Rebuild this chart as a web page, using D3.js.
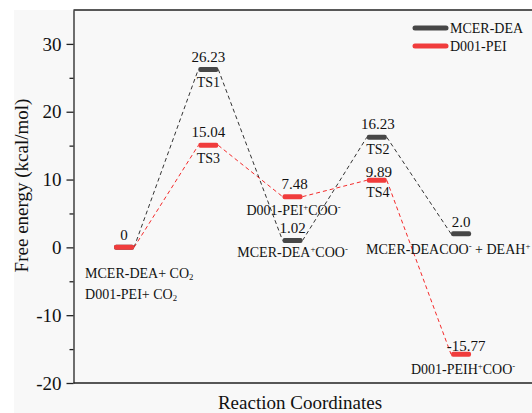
<!DOCTYPE html>
<html>
<head>
<meta charset="utf-8">
<script src="https://cdn.jsdelivr.net/npm/d3@7"></script>
<style>
  body { margin: 0; background: #fff; }
  svg { display: block; font-family: "Liberation Serif", "Times New Roman", serif; }
</style>
</head>
<body>
<svg id="chart" width="532" height="413"></svg>
<script>
// reaction steps along x
const steps = [1, 2, 3, 4, 5];

// free energies (kcal/mol)
const deaEnergy = [0, 26.23, 1.02, 16.23, 2.0];
const peiEnergy = [0, 15.04, 7.48, 9.89, -15.77];

// value labels ('' = not shown)
const deaValueText = ['', '26.23', '1.02', '16.23', '2.0'];
const peiValueText = ['0', '15.04', '7.48', '9.89', '-15.77'];

// state names (^x = superscript, _x = subscript)
const deaNames = ['MCER-DEA+ CO_2', 'TS1', 'MCER-DEA^+COO^-', 'TS2', 'MCER-DEACOO^- + DEAH^+'];
const peiNames = ['D001-PEI+ CO_2', 'TS3', 'D001-PEI^+COO^-', 'TS4', 'D001-PEIH^+COO^-'];

const seriesNames = ['MCER-DEA', 'D001-PEI'];
const yTicks = [-20, -10, 0, 10, 20, 30];
const yMinorTicks = [-15, -5, 5, 15, 25];

const svg = d3.select('#chart');
const W = 532, H = 413;

// plot-area background
svg.append('rect').attr('x', 14).attr('y', 10).attr('width', W - 14).attr('height', H - 10).attr('fill', '#f8f8f8');

const x = d3.scaleLinear().domain([0.4, 6]).range([73.5, 73.5 + 5.6 * 84.25]);
const y = d3.scaleLinear().domain([-20, 35]).range([383, 10]);

const series = [
    { energy: deaEnergy, values: deaValueText, names: deaNames, bar: '#474747', dash: '#333', legendY: 28 },
    { energy: peiEnergy, values: peiValueText, names: peiNames, bar: '#f03c3c', dash: '#f52a2a', legendY: 46 }
];

// label placement tweaks: [dx, dy] for value text and name text (relative to bar centre)
const valueOffset = [
    [[0, -7], [0, -7], [0, -7], [1, -8], [0, -7]],
    [[0, -7], [0, -8], [2, -8], [2, -3], [5, -3]]
];
const nameOffset = [
    [[-39, 31], [0, 18], [0, 17], [1, 17], [-95, 20]],
    [[-39, 52], [0, 18], [1, 18], [1, 17], [2, 20]]
];
const nameAnchor = [
    ['start', 'middle', 'middle', 'middle', 'start'],
    ['start', 'middle', 'middle', 'middle', 'middle']
];

const halfBar = 10;

// write text with simple ^ / _ markup as tspans
function richText(sel, str) {
    let i = 0;
    let buf = '';
    const flush = () => { if (buf) { sel.append('tspan').text(buf); buf = ''; } };
    while (i < str.length) {
        const c = str[i];
        if ((c === '^' || c === '_') && i + 1 < str.length) {
            flush();
            sel.append('tspan')
                .attr('font-size', '0.62em')
                .attr('baseline-shift', c === '^' ? '55%' : '-25%')
                .text(str[i + 1]);
            i += 2;
        } else {
            buf += c;
            i++;
        }
    }
    flush();
}

// dashed connectors
series.forEach(s => {
    const segs = d3.pairs(steps.map((st, i) => ({ st, v: s.energy[i] })));
    svg.append('g').selectAll('line').data(segs).enter().append('line')
        .attr('x1', d => x(d[0].st) + halfBar)
        .attr('y1', d => y(d[0].v))
        .attr('x2', d => x(d[1].st) - halfBar)
        .attr('y2', d => y(d[1].v))
        .attr('stroke', s.dash)
        .attr('stroke-width', 1)
        .attr('stroke-dasharray', '4,3');
});

// energy level bars
series.forEach(s => {
    svg.append('g').selectAll('rect').data(steps).enter().append('rect')
        .attr('x', d => x(d) - halfBar)
        .attr('y', (d, i) => y(s.energy[i]) - 2.5)
        .attr('width', halfBar * 2)
        .attr('height', 5)
        .attr('rx', 2)
        .attr('fill', s.bar);
});

// value + name labels
series.forEach((s, k) => {
    steps.forEach((st, i) => {
        const bx = x(st), by = y(s.energy[i]);
        if (s.values[i]) {
            svg.append('text')
                .attr('x', bx + valueOffset[k][i][0])
                .attr('y', by + valueOffset[k][i][1])
                .attr('text-anchor', 'middle')
                .attr('font-size', 15)
                .attr('fill', '#111')
                .text(s.values[i]);
        }
        const t = svg.append('text')
            .attr('x', bx + nameOffset[k][i][0])
            .attr('y', by + nameOffset[k][i][1])
            .attr('text-anchor', nameAnchor[k][i])
            .attr('font-size', 14)
            .attr('fill', '#111');
        richText(t, s.names[i]);
    });
});

// axes
const axisColor = '#222';
const yAxis = svg.append('g').attr('transform', `translate(${x(0.4)},0)`)
    .call(d3.axisLeft(y).tickValues(yTicks).tickSize(7).tickSizeOuter(0).tickPadding(5)
        .tickFormat(d => String(d)));
yAxis.selectAll('text').attr('font-size', 19).attr('font-family', 'Liberation Serif').attr('fill', '#111');
const yMinor = svg.append('g').attr('transform', `translate(${x(0.4)},0)`)
    .call(d3.axisLeft(y).tickValues(yMinorTicks).tickSize(4).tickFormat(''));
yMinor.select('.domain').remove();
svg.selectAll('.tick line').attr('stroke', axisColor).attr('stroke-width', 1.3);
yAxis.select('.domain').attr('stroke', axisColor).attr('stroke-width', 1.3);

// top and bottom frame lines
[y.range()[0], y.range()[1]].forEach(yy => {
    svg.append('line').attr('x1', x(0.4)).attr('x2', W).attr('y1', yy).attr('y2', yy)
        .attr('stroke', axisColor).attr('stroke-width', 1.3);
});

// axis titles
svg.append('text')
    .attr('transform', 'translate(28,185.5) rotate(-90)')
    .attr('text-anchor', 'middle')
    .attr('font-size', 19)
    .attr('fill', '#111')
    .text('Free energy (kcal/mol)');
svg.append('text')
    .attr('x', 300).attr('y', 409)
    .attr('text-anchor', 'middle')
    .attr('font-size', 19)
    .attr('fill', '#111')
    .text('Reaction Coordinates');

// legend
series.forEach((s, k) => {
    svg.append('line')
        .attr('x1', 415).attr('x2', 446)
        .attr('y1', s.legendY).attr('y2', s.legendY)
        .attr('stroke', s.bar).attr('stroke-width', 5).attr('stroke-linecap', 'round');
    svg.append('text')
        .attr('x', 450).attr('y', s.legendY + 5)
        .attr('font-size', 14)
        .attr('fill', '#111')
        .text(seriesNames[k]);
});
</script>
</body>
</html>
